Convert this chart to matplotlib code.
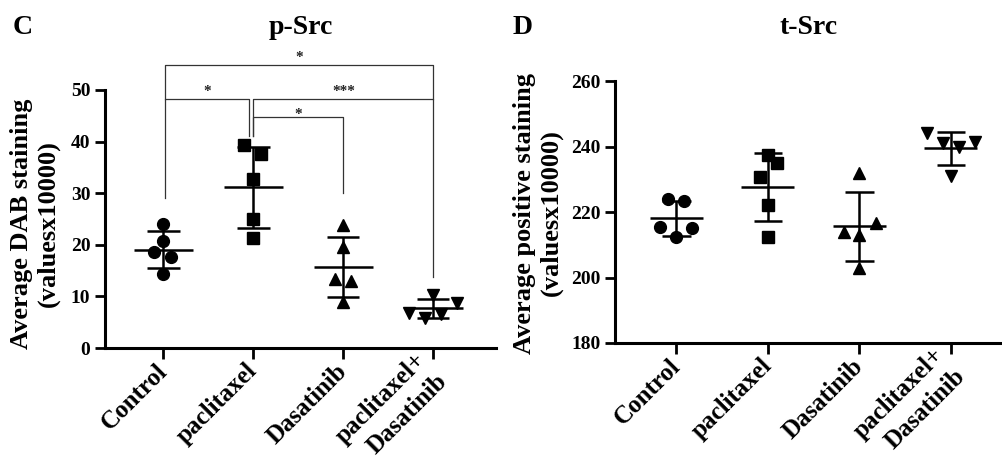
import numpy as np
import matplotlib
matplotlib.use("Agg")
import matplotlib.pyplot as plt

plt.rcParams['font.family'] = ['Liberation Serif', 'DejaVu Serif']
plt.rcParams['font.weight'] = 'bold'

# Data
groups = ["Control", "paclitaxel", "Dasatinib", "paclitaxel+\nDasatinib"]

psrc_control = [24.0, 20.7, 18.7, 17.6, 14.3]
psrc_paclitaxel = [39.3, 37.6, 32.7, 25.0, 21.3]
psrc_dasatinib = [23.8, 19.5, 13.4, 12.9, 9.0]
psrc_combo = [10.3, 8.8, 6.8, 5.9, 6.5]

tsrc_control = [223.9, 223.4, 215.3, 215.0, 212.5]
tsrc_paclitaxel = [237.4, 235.1, 230.8, 222.1, 212.3]
tsrc_dasatinib = [232.0, 216.5, 214.0, 213.0, 202.8]
tsrc_combo = [244.2, 241.0, 239.9, 241.3, 231.0]

# significance: (group a, group b, bracket height, leg end a, leg end b, label, label height)
psrc_sig = [
    (0, 3, 54.8, 48.2, 48.2, "*", 57.2),
    (0, 1, 48.2, 29.0, 41.0, "*", 50.6),
    (1, 3, 48.2, 41.0, 13.8, "***", 50.6),
    (1, 2, 44.8, 41.0, 30.1, "*", 46.1),
]

# horizontal spread of the points inside each column
psrc_offsets = [
    [0, 0, -0.10, 0.085, 0],
    [-0.10, 0.08, 0, 0, 0],
    [0, 0, -0.09, 0.09, 0],
    [0, 0.26, -0.27, -0.09, 0.09],
]
tsrc_offsets = [
    [-0.095, 0.087, -0.18, 0.17, 0],
    [0, 0.095, -0.084, 0, 0],
    [0, 0.18, -0.17, 0, 0],
    [-0.26, -0.084, 0.087, 0.26, 0],
]
markers = ["o", "s", "^", "v"]
msizes = [8.5, 8, 8.5, 8.5]

fig = plt.figure(figsize=(10.03, 4.68), dpi=100)
ax1 = fig.add_axes([0.1047, 0.2564, 0.39, 0.5513])
ax2 = fig.add_axes([0.6132, 0.2671, 0.3868, 0.5598])


def draw_panel(ax, data, offsets, mean_w, cap_w):
    for i, vals in enumerate(data):
        vals = np.array(vals)
        xs = i + np.array(offsets[i])
        ax.plot(xs, vals, linestyle="none", marker=markers[i], ms=msizes[i],
                color="black", zorder=3, clip_on=False)
        m = vals.mean()
        sd = vals.std(ddof=1)
        ax.hlines(m, i - mean_w, i + mean_w, color="black", lw=1.8, zorder=4)
        ax.vlines(i, m - sd, m + sd, color="black", lw=1.8, zorder=4)
        ax.hlines([m - sd, m + sd], i - cap_w, i + cap_w, color="black", lw=1.8, zorder=4)
    for s in ["top", "right"]:
        ax.spines[s].set_visible(False)
    for s in ["left", "bottom"]:
        ax.spines[s].set_linewidth(2.2)
    ax.tick_params(axis="both", width=2, length=7, labelsize=14)
    ax.tick_params(axis="x", length=8, pad=6)
    ax.set_xticks(range(len(groups)))
    ax.set_xticklabels(groups, rotation=45, ha="right", va="center",
                       rotation_mode="anchor", fontsize=18, fontweight="bold",
                       multialignment="right", linespacing=1.4)
    for lab in ax.get_yticklabels():
        lab.set_fontweight("bold")


draw_panel(ax1, [psrc_control, psrc_paclitaxel, psrc_dasatinib, psrc_combo],
           psrc_offsets, 0.33, 0.18)
ax1.set_xlim(-0.65, 3.7)
ax1.set_ylim(0, 50)
ax1.set_yticks([0, 10, 20, 30, 40, 50])
ax1.set_ylabel("Average DAB staining\n(valuesx10000)", fontsize=19, fontweight="bold")
ax1.yaxis.set_label_coords(-0.115, 0.483)

for a, b, top, ya, yb, lab, ly in psrc_sig:
    xa = a + 0.02 if a == 0 else a
    xb = b - 0.05 if (a == 0 and b == 1) else b
    ax1.plot([xa, xa, xb, xb], [ya, top, top, yb], color="#333333", lw=0.9,
             clip_on=False, zorder=2)
    ax1.text((xa + xb) / 2, ly - 1.5, lab, ha="center", va="baseline",
             fontsize=11, color="#222222")

draw_panel(ax2, [tsrc_control, tsrc_paclitaxel, tsrc_dasatinib, tsrc_combo],
           tsrc_offsets, 0.29, 0.155)
ax2.set_xlim(-0.67, 3.57)
ax2.set_ylim(180, 260)
ax2.set_yticks([180, 200, 220, 240, 260])
ax2.set_ylabel("Average positive staining\n(valuesx10000)", fontsize=19, fontweight="bold")
ax2.yaxis.set_label_coords(-0.134, 0.496)

fig.text(0.1047 + 0.39 / 2, 1 - 27 / 468, "p-Src", fontsize=20,
         fontweight="bold", ha="center", va="center")
fig.text(0.6132 + 0.3868 / 2, 1 - 27 / 468, "t-Src", fontsize=20,
         fontweight="bold", ha="center", va="center")
fig.text(23 / 1003, 1 - 27 / 468, "C", fontsize=20, fontweight="bold",
         ha="center", va="center")
fig.text(523 / 1003, 1 - 27 / 468, "D", fontsize=20, fontweight="bold",
         ha="center", va="center")

fig.savefig("out.png", dpi=100)
